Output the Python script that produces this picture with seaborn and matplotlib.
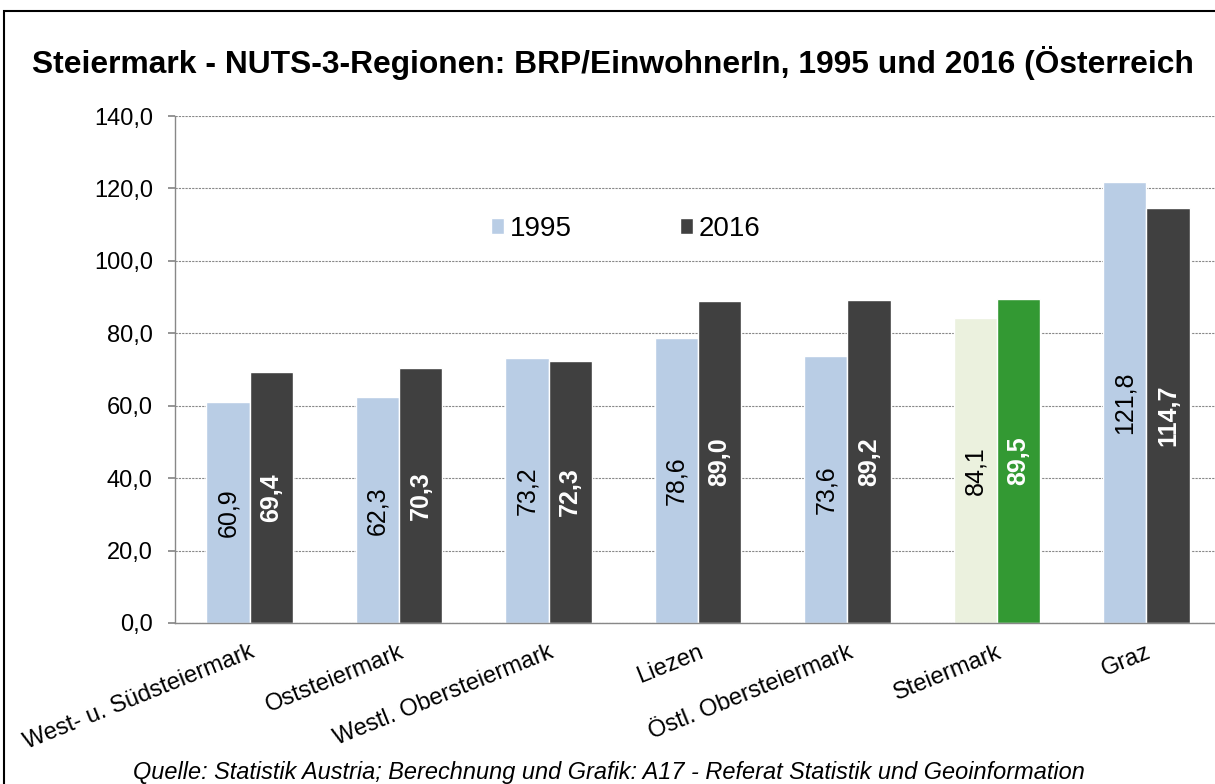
import matplotlib
matplotlib.use("Agg")
import matplotlib.pyplot as plt
import seaborn as sns
import pandas as pd
from matplotlib.patches import Rectangle
from matplotlib.ticker import FixedLocator

regions = ["West- u. Südsteiermark", "Oststeiermark", "Westl. Obersteiermark",
           "Liezen", "Östl. Obersteiermark", "Steiermark", "Graz"]
v1995 = [60.9, 62.3, 73.2, 78.6, 73.6, 84.1, 121.8]
v2016 = [69.4, 70.3, 72.3, 89.0, 89.2, 89.5, 114.7]
years = ["1995", "2016"]
yticks = [0, 20, 40, 60, 80, 100, 120, 140]

df = pd.DataFrame({
    "Region": regions * 2,
    "Jahr": [years[0]] * len(regions) + [years[1]] * len(regions),
    "Wert": v1995 + v2016,
})

sns.set_theme(style="white")
plt.rcParams["font.family"] = ["Liberation Sans", "DejaVu Sans"]
plt.rcParams["text.color"] = "black"
plt.rcParams["axes.labelcolor"] = "black"
plt.rcParams["xtick.color"] = "black"
plt.rcParams["ytick.color"] = "black"

fig = plt.figure(figsize=(12.15, 7.84), dpi=100)
ax = fig.add_axes([175 / 1215, 1 - 623 / 784, 1046 / 1215, 507 / 784])

c1995 = "#b9cde5"
c2016 = "#404040"
sns.barplot(data=df, x="Region", y="Wert", hue="Jahr", order=regions,
            hue_order=years, palette=[c1995, c2016], width=0.58,
            saturation=1, ax=ax, legend=True)

# highlight Steiermark bars
idx = regions.index("Steiermark")
bars1 = ax.containers[0]
bars2 = ax.containers[1]
bars1[idx].set_facecolor("#ebf1de")
bars2[idx].set_facecolor("#339933")

# value labels
for bar, v in zip(bars1, v1995):
    ax.text(bar.get_x() + bar.get_width() / 2, v / 2, f"{v:.1f}".replace(".", ","),
            rotation=90, ha="center", va="center", fontsize=18, color="black")
for bar, v in zip(bars2, v2016):
    ax.text(bar.get_x() + bar.get_width() / 2, v / 2, f"{v:.1f}".replace(".", ","),
            rotation=90, ha="center", va="center", fontsize=18, color="white",
            fontweight="bold")

ax.set_ylim(0, 140)
ax.set_xlim(-0.5, len(regions) - 0.5)
ax.set_yticks(yticks)
ax.set_yticklabels([f"{t:.1f}".replace(".", ",") for t in yticks], fontsize=17)
ax.yaxis.grid(True, linestyle=(0, (2, 1)), color="#888888", linewidth=0.8)
ax.set_axisbelow(True)
ax.set_xlabel("")
ax.set_ylabel("")

ax.set_xticks(range(len(regions)))
ax.set_xticklabels(regions, rotation=22, ha="right", rotation_mode="anchor", fontsize=17)
ax.tick_params(axis="x", which="major", length=0, pad=13)
ax.xaxis.set_minor_locator(FixedLocator([i - 0.5 for i in range(len(regions) + 1)]))
ax.tick_params(axis="x", which="minor", length=6, color="#888888", direction="out")
ax.tick_params(axis="y", length=5, color="#888888", labelcolor="black",
               direction="out", left=True, pad=11)

for s in ["top", "right"]:
    ax.spines[s].set_visible(False)
for s in ["left", "bottom"]:
    ax.spines[s].set_color("#888888")
    ax.spines[s].set_linewidth(1.0)

leg = ax.legend(loc="center left", bbox_to_anchor=(0.302, (623 - 229) / 507), ncol=2,
                frameon=False, fontsize=20, handlelength=0.47, handleheight=0.47,
                handletextpad=0.2, columnspacing=3.9, borderpad=0, borderaxespad=0)
for t in leg.get_texts():
    t.set_color("black")

fig.text(32 / 1215, 1 - 63 / 784,
         "Steiermark - NUTS-3-Regionen: BRP/EinwohnerIn, 1995 und 2016 (Österreich",
         fontsize=22.9, fontweight="bold", ha="left", va="center", color="black")
fig.text(609 / 1215, 1 - 772 / 784,
         "Quelle: Statistik Austria; Berechnung und Grafik: A17 - Referat Statistik und Geoinformation",
         fontsize=16.9, style="italic", ha="center", va="center", color="black")

fig.patches.append(Rectangle((4 / 1215, -0.1), 1.2, 1 - 11 / 784 + 0.1,
                             transform=fig.transFigure, fill=False,
                             edgecolor="black", linewidth=1.5))

fig.savefig("out.png", dpi=100)
